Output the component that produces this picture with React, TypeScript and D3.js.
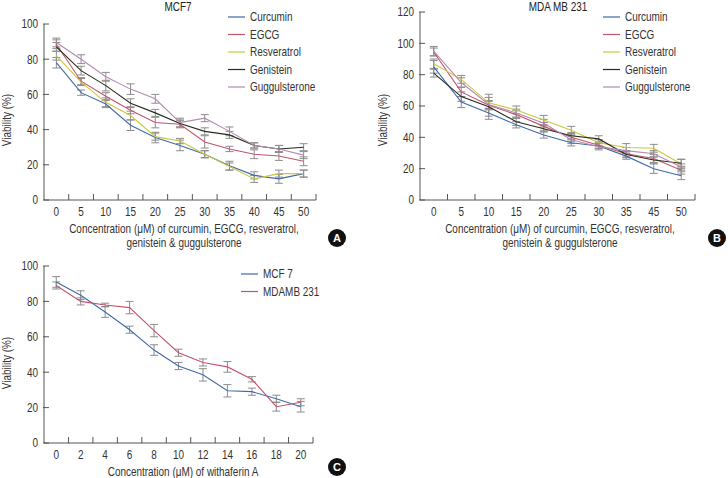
import React from "react";
import * as d3 from "d3";

const FONT = "'Liberation Sans', Arial, Helvetica, sans-serif";
const SX = 0.83;

// Panel A: MCF7
const catsA = ["0", "5", "10", "15", "20", "25", "30", "35", "40", "45", "50"];
const curcuminA = [78, 61, 54.5, 42.5, 35.5, 31, 26, 19.5, 14, 12, 15];
const egcgA = [88.5, 67.5, 59, 51, 44, 43, 33, 29, 26, 25, 22];
const resveratrolA = [82, 67, 55.5, 48, 36, 33.5, 26, 19, 12, 15, 15];
const genisteinA = [87, 73.5, 65, 55, 49.5, 43.5, 39, 37, 31, 29, 30];
const guggulA = [89.5, 80, 70, 63, 57.5, 44, 46.5, 39, 31, 29, 25.5];
const curcuminAErr = [3, 1.5, 2, 3, 3, 3, 2, 2.5, 2, 2.5, 2];
const egcgAErr = [2.5, 2, 2, 2, 3, 2, 3.5, 1.5, 2.5, 2.5, 2.5];
const resveratrolAErr = [2.5, 2, 2.5, 2.5, 2, 1.5, 2, 2, 2, 2, 2];
const genisteinAErr = [2.5, 2.5, 3, 2.5, 2, 2, 2, 2, 1.5, 2, 2];
const guggulAErr = [2.5, 2.5, 2.5, 3, 2.5, 2.5, 2, 2.5, 1.5, 2, 2];
const yTicksA = [0, 20, 40, 60, 80, 100];

// Panel B: MDA MB 231
const catsB = ["0", "5", "10", "15", "20", "25", "30", "35", "45", "50"];
const curcuminB = [85, 62.5, 55.5, 48, 41.5, 36.5, 34.5, 28, 20, 15.5];
const egcgB = [94.5, 69, 60.5, 54.5, 47, 40, 35, 29.5, 26.5, 19];
const resveratrolB = [87, 77, 62, 57.5, 51, 44.5, 36.5, 33.5, 33, 23];
const genisteinB = [81, 66, 59.5, 50, 45.5, 41, 39, 29, 25.5, 23.5];
const guggulB = [95, 75, 61, 55.5, 49, 38.5, 34, 31.5, 29.5, 21];
const curcuminBErr = [4, 3.5, 2, 2, 2, 2, 1.5, 2, 3, 2.5];
const egcgBErr = [2.5, 3, 2.5, 2.5, 2.5, 2.5, 2, 2, 2.5, 2.5];
const resveratrolBErr = [3, 2.5, 3.5, 2.5, 3, 2.5, 2, 2.5, 2.5, 3];
const genisteinBErr = [2.5, 3, 8, 2.5, 2, 2, 2, 2, 2, 2.5];
const guggulBErr = [3, 3, 2.5, 2.5, 2.5, 2.5, 2, 2, 2, 2];
const yTicksB = [0, 20, 40, 60, 80, 100, 120];

// Panel C: withaferin A
const catsC = ["0", "2", "4", "6", "8", "10", "12", "14", "16", "18", "20"];
const mcf7C = [91, 83.5, 74, 64, 52.5, 43.5, 38.5, 29.5, 29, 25, 20.5];
const mdambC = [89, 80, 78, 76.5, 63.5, 51, 45.5, 43, 36, 20.5, 23];
const mcf7CErr = [3, 2.5, 3, 2, 3, 2, 3.5, 3.5, 2, 2, 3];
const mdambCErr = [2, 2, 1, 3.5, 3.5, 2, 2, 3, 1.5, 2.5, 2];
const yTicksC = [0, 20, 40, 60, 80, 100];

const COLORS = {
  blue: "#3f6aa8",
  red: "#c4546e",
  yellow: "#c9c83e",
  black: "#2a2a1c",
  purple: "#b48ab4",
};

type Series = { name: string; values: number[]; err: number[]; color: string };

function T(props: {
  x: number;
  y: number;
  anchor?: "start" | "middle" | "end";
  size?: number;
  rotate?: number;
  fill?: string;
  children: React.ReactNode;
}) {
  const { x, y, anchor = "start", size = 12, rotate = 0, fill = "#333" } = props;
  return (
    <g transform={`translate(${x},${y}) rotate(${rotate}) scale(${SX},1)`}>
      <text x={0} y={0} dy="0.36em" textAnchor={anchor} fontSize={size} fill={fill} fontFamily={FONT}>
        {props.children}
      </text>
    </g>
  );
}

function Panel(props: {
  cats: string[];
  series: Series[];
  yTicks: number[];
  left: number;
  right: number;
  top: number;
  bottom: number;
  title: string;
  titleX: number;
  legendX: number;
  legendY: number;
  xTitle: string[];
  xTitleX: number;
  xTitleY: number;
  yTitleY: number;
  letter: string;
  letterX: number;
  letterY: number;
}) {
  const { cats, series, yTicks, left, right, top, bottom } = props;
  const x = d3.scaleBand<string>().domain(cats).range([left, right]).padding(0);
  const y = d3.scaleLinear().domain([0, d3.max(yTicks) as number]).range([bottom, top]);
  const cx = (c: string) => (x(c) as number) + x.bandwidth() / 2;
  const line = d3
    .line<number>()
    .x((_, i) => cx(cats[i]))
    .y((v) => y(v));
  const axisColor = "#555";
  const bounds = cats.map((c) => (x(c) as number) + x.bandwidth());
  return (
    <g>
      {props.title ? (
        <T x={props.titleX} y={7} anchor="middle" fill="#222">
          {props.title}
        </T>
      ) : null}
      <line x1={left} x2={left} y1={top} y2={bottom} stroke={axisColor} />
      <line x1={left} x2={right} y1={bottom} y2={bottom} stroke={axisColor} />
      {yTicks.map((t) => (
        <g key={"yt" + t}>
          <line x1={left - 1} x2={left + 5} y1={y(t)} y2={y(t)} stroke={axisColor} />
          <T x={left - 6} y={y(t)} anchor="end">
            {t}
          </T>
        </g>
      ))}
      {bounds.map((b, i) => (
        <line key={"xt" + i} x1={b} x2={b} y1={bottom} y2={bottom - 6} stroke={axisColor} />
      ))}
      {cats.map((c) => (
        <T key={"xl" + c} x={cx(c)} y={bottom + 12} anchor="middle">
          {c}
        </T>
      ))}
      {series.map((s) =>
        s.values.map((v, i) => {
          const px = cx(cats[i]);
          const y1 = y(v + s.err[i]);
          const y2 = y(v - s.err[i]);
          return (
            <g key={s.name + "e" + i} stroke="#8c8c8c" strokeWidth={1}>
              <line x1={px} x2={px} y1={y1} y2={y2} />
              <line x1={px - 4} x2={px + 4} y1={y1} y2={y1} />
              <line x1={px - 4} x2={px + 4} y1={y2} y2={y2} />
            </g>
          );
        })
      )}
      {series.map((s) => (
        <path key={s.name} d={line(s.values) || ""} fill="none" stroke={s.color} strokeWidth={1.1} />
      ))}
      {series.map((s, i) => (
        <g key={"lg" + s.name}>
          <line
            x1={props.legendX}
            x2={props.legendX + 17}
            y1={props.legendY + i * 17.5}
            y2={props.legendY + i * 17.5}
            stroke={s.color}
            strokeWidth={1.2}
          />
          <T x={props.legendX + 22} y={props.legendY + i * 17.5}>
            {s.name}
          </T>
        </g>
      ))}
      {props.xTitle.map((t, i) => (
        <T key={"xtt" + i} x={props.xTitleX} y={props.xTitleY + i * 14} anchor="middle">
          {t}
        </T>
      ))}
      <T x={left - 37} y={props.yTitleY} anchor="middle" rotate={-90}>
        Viability (%)
      </T>
      <circle cx={props.letterX} cy={props.letterY} r={9} fill="#111" />
      <text
        x={props.letterX}
        y={props.letterY}
        dy="0.36em"
        textAnchor="middle"
        fontSize={11}
        fontWeight="bold"
        fill="#fff"
        fontFamily={FONT}
      >
        {props.letter}
      </text>
    </g>
  );
}

export default function App() {
  const seriesA: Series[] = [
    { name: "Curcumin", values: curcuminA, err: curcuminAErr, color: COLORS.blue },
    { name: "EGCG", values: egcgA, err: egcgAErr, color: COLORS.red },
    { name: "Resveratrol", values: resveratrolA, err: resveratrolAErr, color: COLORS.yellow },
    { name: "Genistein", values: genisteinA, err: genisteinAErr, color: COLORS.black },
    { name: "Guggulsterone", values: guggulA, err: guggulAErr, color: COLORS.purple },
  ];
  const seriesB: Series[] = [
    { name: "Curcumin", values: curcuminB, err: curcuminBErr, color: COLORS.blue },
    { name: "EGCG", values: egcgB, err: egcgBErr, color: COLORS.red },
    { name: "Resveratrol", values: resveratrolB, err: resveratrolBErr, color: COLORS.yellow },
    { name: "Genistein", values: genisteinB, err: genisteinBErr, color: COLORS.black },
    { name: "Guggulsterone", values: guggulB, err: guggulBErr, color: COLORS.purple },
  ];
  const seriesC: Series[] = [
    { name: "MCF 7", values: mcf7C, err: mcf7CErr, color: COLORS.blue },
    { name: "MDAMB 231", values: mdambC, err: mdambCErr, color: COLORS.red },
  ];
  const xTitleAB = ["Concentration (μM) of curcumin, EGCG, resveratrol,", "genistein & guggulsterone"];
  return (
    <svg width={728} height={478} style={{ position: "absolute", left: 0, top: 0, background: "#fff" }}>
      <rect width={728} height={478} fill="#fff" />
      <Panel
        cats={catsA}
        series={seriesA}
        yTicks={yTicksA}
        left={44}
        right={316}
        top={24}
        bottom={200}
        title="MCF7"
        titleX={178}
        legendX={228}
        legendY={17}
        xTitle={xTitleAB}
        xTitleX={184}
        xTitleY={229}
        yTitleY={120}
        letter="A"
        letterX={337}
        letterY={238}
      />
      <Panel
        cats={catsB}
        series={seriesB}
        yTicks={yTicksB}
        left={420}
        right={695}
        top={12}
        bottom={200}
        title="MDA MB 231"
        titleX={558}
        legendX={603}
        legendY={17}
        xTitle={xTitleAB}
        xTitleX={560}
        xTitleY={229}
        yTitleY={120}
        letter="B"
        letterX={717}
        letterY={238}
      />
      <Panel
        cats={catsC}
        series={seriesC}
        yTicks={yTicksC}
        left={44}
        right={313}
        top={266}
        bottom={443}
        title=""
        titleX={0}
        legendX={241}
        legendY={274}
        xTitle={["Concentration (μM) of withaferin A"]}
        xTitleX={183}
        xTitleY={472}
        yTitleY={363}
        letter="C"
        letterX={337}
        letterY={467}
      />
    </svg>
  );
}
